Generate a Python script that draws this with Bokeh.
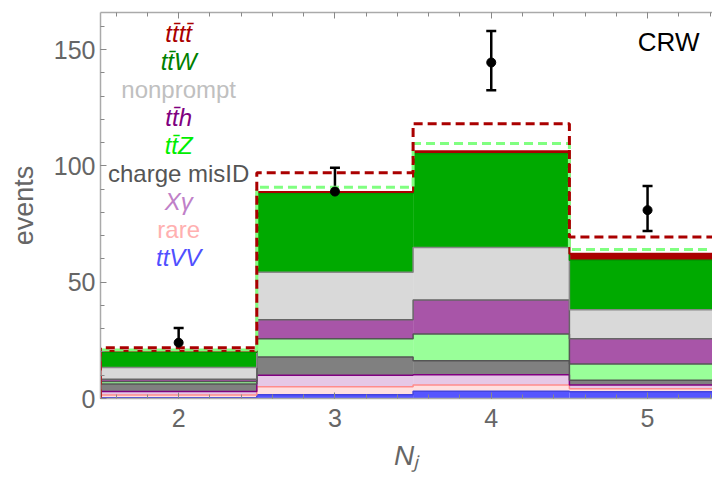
from bokeh.plotting import figure
from bokeh.models import (ColumnDataSource, LinearAxis, FixedTicker, Range1d, Whisker, TeeHead,
                          CustomJSTickFormatter)
from bokeh.core.properties import value
from bokeh.embed import file_html
from bokeh.resources import INLINE
import numpy as np

# ---------------- data ----------------
bins = [2, 3, 4, 5]
bin_edges = [1.5, 2.5, 3.5, 4.5, 5.5]

# stacked contributions, bottom to top
ttVV = [0.3, 1.6, 3.1, 2.9]
rare = [1.2, 3.4, 2.7, 1.3]
xgamma = [1.5, 5.0, 4.4, 1.6]
misid = [3.2, 7.8, 6.0, 2.0]
ttZ = [1.1, 7.9, 11.5, 7.0]
tth = [1.0, 8.2, 14.7, 10.9]
nonprompt = [5.0, 20.4, 22.5, 12.5]
ttW = [6.6, 33.9, 40.4, 21.3]
tttt = [0.6, 0.6, 1.0, 2.7]

# alternative totals (dashed outlines)
alt_green = [20.9, 90.8, 109.7, 64.1]
alt_red = [21.8, 97.1, 118.2, 69.5]

# observed data
data_y = [24.0, 89.0, 144.5, 81.0]
data_lo = [19.1, 80.2, 132.6, 72.0]
data_hi = [30.3, 99.2, 158.0, 91.4]

layer_names = ["ttVV", "rare", "Xγ", "charge misID", "tt̄Z", "tt̄h", "nonprompt", "tt̄W", "tt̄tt̄"]
layer_values = [ttVV, rare, xgamma, misid, ttZ, tth, nonprompt, ttW, tttt]
fill_colors = ["#5555ff", "#ffe0e0", "#e6c8e6", "#808080", "#99ff99", "#a855a8", "#d9d9d9", "#00aa00", "#aa0000"]
edge_colors = ["#4444dd", "#ff8c8c", "#800080", "#555555", "#555555", "#666666", "#888888", "#009900", "#aa0000"]
legend_colors = ["#5050ff", "#ffb0b0", "#c080c8", "#555555", "#00ee00", "#800080", "#c0c0c0", "#008000", "#aa0000"]
legend_styles = ["italic", "normal", "italic", "normal", "italic", "italic", "normal", "italic", "italic"]

FONT = "Liberation Sans"
GRAY = "#666666"
AXIS_GRAY = "#aaaaaa"

FRAME_W = 612
p = figure(width=712, height=476, output_backend="svg", toolbar_location=None,
           x_range=Range1d(1.5, 1.5 + FRAME_W / 156.3), y_range=Range1d(0, 166),
           frame_width=FRAME_W, frame_height=386,
           min_border_left=100, min_border_right=0, min_border_top=12, min_border_bottom=78)
p.outline_line_color = None
p.xgrid.visible = False
p.ygrid.visible = False
p.background_fill_color = "white"


def step_xy(vals, from_zero=False):
    xs, ys = [], []
    if from_zero:
        xs.append(bin_edges[0]); ys.append(0)
    for i, v in enumerate(vals):
        xs += [bin_edges[i], bin_edges[i + 1]]
        ys += [v, v]
    return xs, ys


# stacked fills
cum = np.zeros(len(bins))
tops = []
for vals, fc in zip(layer_values, fill_colors):
    new = cum + np.array(vals)
    p.quad(left=bin_edges[:-1], right=bin_edges[1:], bottom=list(cum), top=list(new),
           fill_color=fc, line_color=None)
    tops.append(new.copy())
    cum = new

# layer top outlines
for i, (t, ec) in enumerate(zip(tops, edge_colors)):
    xs, ys = step_xy(list(t), from_zero=(i == len(tops) - 1))
    p.line(xs, ys, line_color=ec, line_width=1.5 if i < len(tops) - 1 else 2)

# dashed alternatives
xs, ys = step_xy(alt_green)
p.line(xs, ys, line_color="#80ff80", line_width=3, line_dash="9 5")
xs, ys = step_xy(alt_red, from_zero=True)
p.line(xs, ys, line_color="#aa0000", line_width=3, line_dash="9 5")

# data with error bars
src = ColumnDataSource(dict(x=bins, y=data_y, lo=data_lo, hi=data_hi))
wh = Whisker(base="x", upper="hi", lower="lo", source=src, dimension="height",
             line_color="black", line_width=2.5,
             upper_head=TeeHead(size=10, line_width=2.5, line_color="black"),
             lower_head=TeeHead(size=10, line_width=2.5, line_color="black"))
p.add_layout(wh)
p.scatter("x", "y", source=src, size=9, color="black")

# legend as coloured texts (top layer first)
leg_y = [157.0 - 12.05 * i for i in range(len(layer_names))]
leg_src = ColumnDataSource(dict(
    x=[2.0] * len(layer_names), y=leg_y,
    text=layer_names[::-1], color=legend_colors[::-1], style=legend_styles[::-1]))
p.text(x="x", y="y", text="text", source=leg_src, text_color="color",
       text_font_style="style", text_font=value(FONT), text_font_size=value("24px"),
       text_align="center", text_baseline="middle")

# region label
p.text(x=[5.135], y=[153.3], text=["CRW"], text_color="black", text_font=value(FONT),
       text_font_size=value("26px"), text_align="center", text_baseline="middle")

# axes
yt = FixedTicker(ticks=[0, 50, 100, 150], minor_ticks=list(range(0, 170, 10)))
xt = FixedTicker(ticks=bins, minor_ticks=[round(v, 1) for v in np.arange(1.6, 5.5, 0.2)])

for ax in [p.yaxis[0], p.xaxis[0]]:
    ax.axis_line_color = AXIS_GRAY
    ax.axis_line_width = 1.5
    ax.major_tick_line_color = "#888888"
    ax.minor_tick_line_color = "#888888"
    ax.major_tick_in = 6
    ax.major_tick_out = 0
    ax.minor_tick_in = 4
    ax.minor_tick_out = 0
    ax.major_label_text_color = GRAY
    ax.major_label_text_font = FONT
    ax.major_label_text_font_size = "25px"

p.yaxis.ticker = yt
p.xaxis.ticker = xt
p.yaxis.major_label_standoff = 5
p.xaxis.major_label_standoff = 10
p.yaxis.axis_label = "events"
p.yaxis.axis_label_text_font = FONT
p.yaxis.axis_label_text_font_size = "27px"
p.yaxis.axis_label_text_font_style = "normal"
p.yaxis.axis_label_text_color = GRAY
p.yaxis.axis_label_standoff = 12

p.xaxis.axis_label = "Nⱼ"
p.xaxis.axis_label_text_font = FONT
p.xaxis.axis_label_text_font_size = "28px"
p.xaxis.axis_label_text_font_style = "italic"
p.xaxis.axis_label_text_color = GRAY
p.xaxis.axis_label_standoff = 10

top = LinearAxis(ticker=xt, axis_line_color=AXIS_GRAY, axis_line_width=1.5,
                 major_tick_line_color="#888888", minor_tick_line_color="#888888",
                 major_tick_in=6, major_tick_out=0, minor_tick_in=4, minor_tick_out=0,
                 formatter=CustomJSTickFormatter(code="return ''"),
                 major_label_standoff=0)
p.add_layout(top, "above")

open("out.html", "w").write(file_html(p, INLINE))
